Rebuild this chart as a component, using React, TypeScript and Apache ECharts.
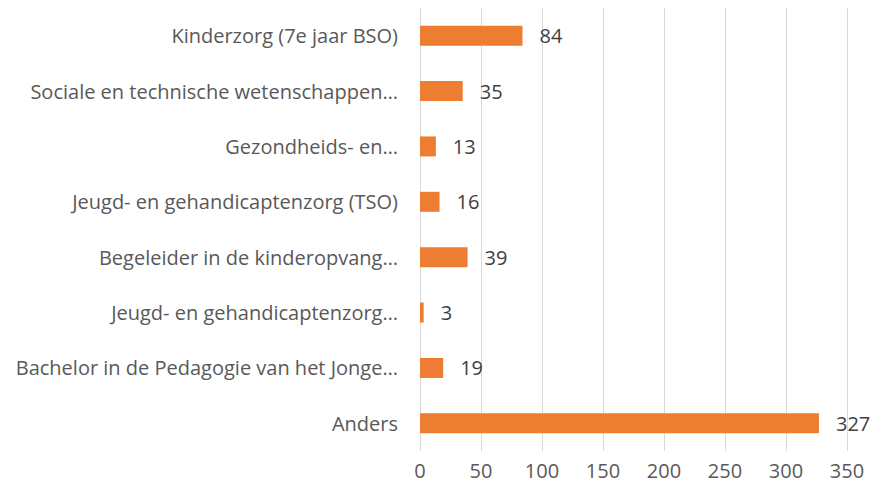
import React, { useEffect, useRef } from "react";
import * as echarts from "echarts";

const categories = [
  "Kinderzorg (7e jaar BSO)",
  "Sociale en technische wetenschappen…",
  "Gezondheids- en…",
  "Jeugd- en gehandicaptenzorg (TSO)",
  "Begeleider in de kinderopvang…",
  "Jeugd- en gehandicaptenzorg…",
  "Bachelor in de Pedagogie van het Jonge…",
  "Anders",
];
const values = [84, 35, 13, 16, 39, 3, 19, 327];
const axisMax = 350;
const axisInterval = 50;

export default function App() {
  const ref = useRef<HTMLDivElement>(null);
  useEffect(() => {
    document.body.style.margin = "0";
    const chart = echarts.init(ref.current!, null, { renderer: "svg" });
    const font = "'Open Sans', sans-serif";
    chart.setOption({
      animation: false,
      backgroundColor: "#ffffff",
      grid: { left: 420, right: 24, top: 8, bottom: 41, containLabel: false },
      xAxis: {
        type: "value",
        min: 0,
        max: axisMax,
        interval: axisInterval,
        axisLine: { show: false },
        axisTick: { show: false },
        splitLine: { show: true, lineStyle: { color: "#d9d9d9", width: 1 } },
        axisLabel: { color: "#595959", fontSize: 20, fontFamily: font, margin: 9 },
      },
      yAxis: {
        type: "category",
        data: categories,
        inverse: true,
        axisLine: { show: false },
        axisTick: { show: false },
        splitLine: { show: false },
        axisLabel: { color: "#595959", fontSize: 20, fontFamily: font, margin: 22 },
      },
      series: [
        {
          type: "bar",
          data: values,
          barWidth: 20,
          itemStyle: { color: "#ED7D31" },
          label: {
            show: true,
            position: "right",
            distance: 17,
            color: "#404040",
            fontSize: 20,
            fontFamily: font,
          },
        },
      ],
    });
    return () => chart.dispose();
  }, []);
  return <div ref={ref} style={{ width: 871, height: 492 }} />;
}
